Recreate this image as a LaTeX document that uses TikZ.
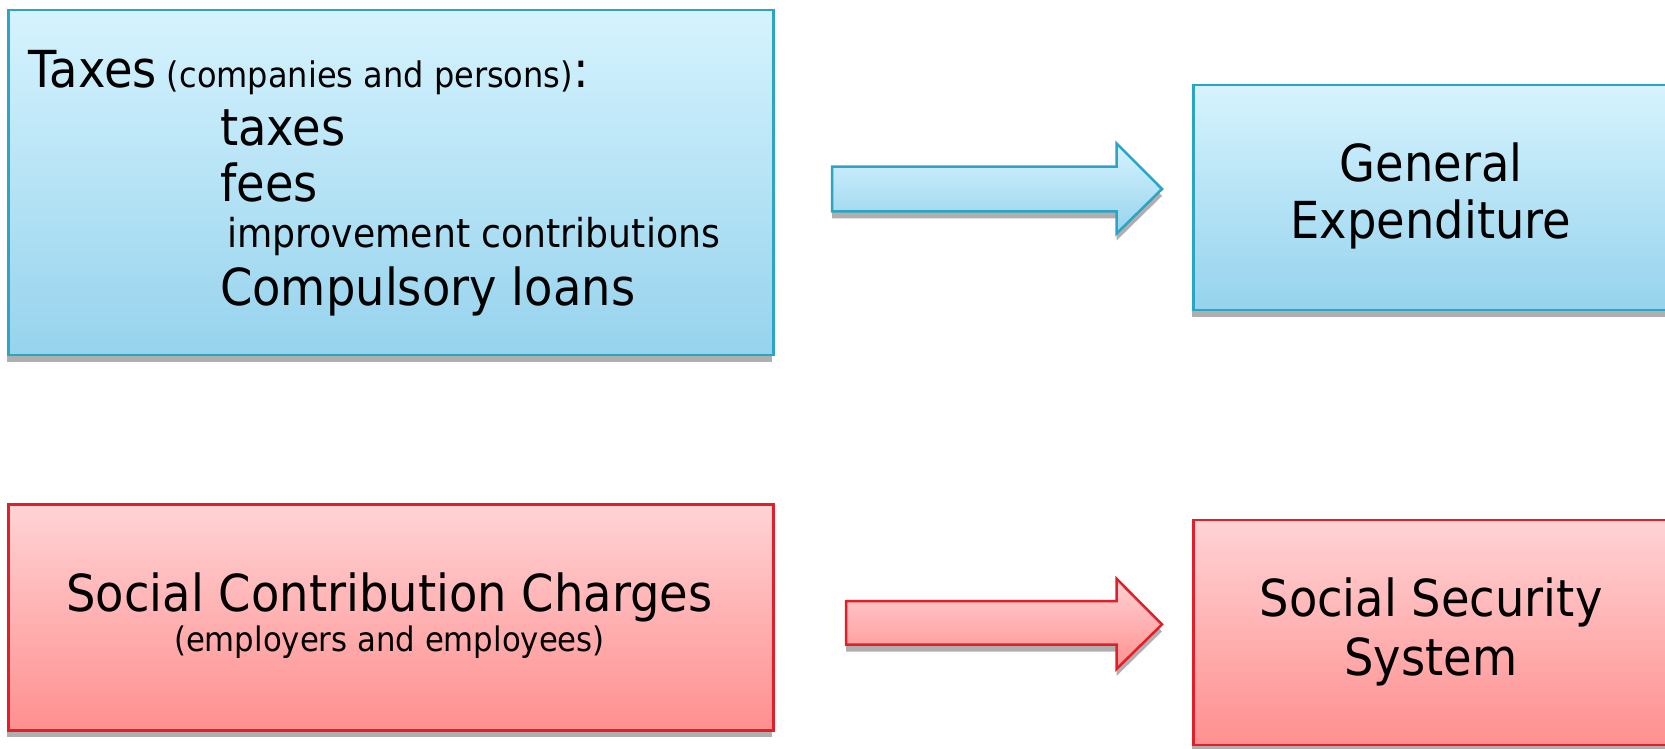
\documentclass[tikz,border=0pt]{standalone}
\usepackage{fontspec}
\setmainfont{DejaVu Sans}[FakeStretch=0.91]
\definecolor{bluetop}{RGB}{214,243,254}
\definecolor{bluebot}{RGB}{150,211,237}
\definecolor{blueline}{RGB}{44,164,196}
\definecolor{redtop}{RGB}{255,211,213}
\definecolor{redbot}{RGB}{255,143,143}
\definecolor{redline}{RGB}{226,30,40}
\definecolor{shadowc}{RGB}{175,175,175}
\tikzset{
  bluebox/.style={draw=blueline, line width=2.5pt, top color=bluetop, bottom color=bluebot, rectangle, inner sep=0pt, anchor=north west},
  redbox/.style={draw=redline, line width=2.5pt, top color=redtop, bottom color=redbot, rectangle, inner sep=0pt, anchor=north west},
  bluearrow/.style={draw=blueline, line width=2.5pt, top color=bluetop, bottom color=bluebot, line join=miter},
  redarrow/.style={draw=redline, line width=2.5pt, top color=redtop, bottom color=redbot, line join=miter},
  shadowfill/.style={fill=shadowc},
  lbl/.style={inner sep=0pt, anchor=base west},
  cbl/.style={inner sep=0pt, anchor=base, align=center},
  big/.style={font=\fontsize{51}{58}\selectfont},
}
\begin{document}
\begin{tikzpicture}[x=1pt,y=-1pt]
\useasboundingbox (0,0) rectangle (1665,748);
\clip (0,0) rectangle (1665,748);
% shadows
\fill[shadowfill] (7,15) rectangle (772,362);
\fill[shadowfill] (1192,90) rectangle (1680,317);
\fill[shadowfill] (7,510) rectangle (772,737);
\fill[shadowfill] (1192,525) rectangle (1680,752);
\fill[shadowfill] (832,173.7) -- (1116.5,173.7) -- (1116.5,150.4) -- (1162,196) -- (1116.5,240.6) -- (1116.5,218.3) -- (832,218.3) -- cycle;
\fill[shadowfill] (846,608) -- (1116.5,608) -- (1116.5,585.7) -- (1162,631.4) -- (1116.5,676) -- (1116.5,651.6) -- (846,651.6) -- cycle;
% boxes
\node[bluebox, minimum width=765pt, minimum height=345pt] (taxbox) at (7,8.6) {};
\node[bluebox, minimum width=480pt, minimum height=225pt] (genbox) at (1192,83.5) {};
\node[redbox, minimum width=765pt, minimum height=226pt] (socbox) at (7,503) {};
\node[redbox, minimum width=480pt, minimum height=225pt] (ssbox) at (1192,518.5) {};
% arrows
\shade[bluearrow] (832,166.7) -- (1116.5,166.7) -- (1116.5,143.4) -- (1162,189) -- (1116.5,233.6) -- (1116.5,211.3) -- (832,211.3) -- cycle;
\shade[redarrow] (846,601) -- (1116.5,601) -- (1116.5,578.7) -- (1162,624.4) -- (1116.5,669) -- (1116.5,644.6) -- (846,644.6) -- cycle;
% texts
\node[lbl, big] (t1) at (28.7,87) {Taxes\fontsize{35.2}{40}\selectfont{} (companies and persons)\fontsize{51}{58}\selectfont:};
\node[lbl, big] (t2) at (220,145.5) {taxes};
\node[lbl, big] (t3) at (220,201.7) {fees};
\node[lbl, font=\fontsize{39.8}{44}\selectfont] (t4) at (227,247) {improvement contributions};
\node[lbl, big] (t5) at (220,305) {Compulsory loans};
\node[cbl, big] (g1) at (1431,181) {General};
\node[cbl, big] (g2) at (1431,238.5) {Expenditure};
\node[cbl, big] (s1) at (389.5,611.5) {Social Contribution Charges};
\node[cbl, font=\fontsize{33.8}{40}\selectfont] (s2) at (389.5,651) {(employers and employees)};
\node[cbl, big] (ss1) at (1431,616) {Social Security};
\node[cbl, big] (ss2) at (1431,675) {System};
\end{tikzpicture}
\end{document}
